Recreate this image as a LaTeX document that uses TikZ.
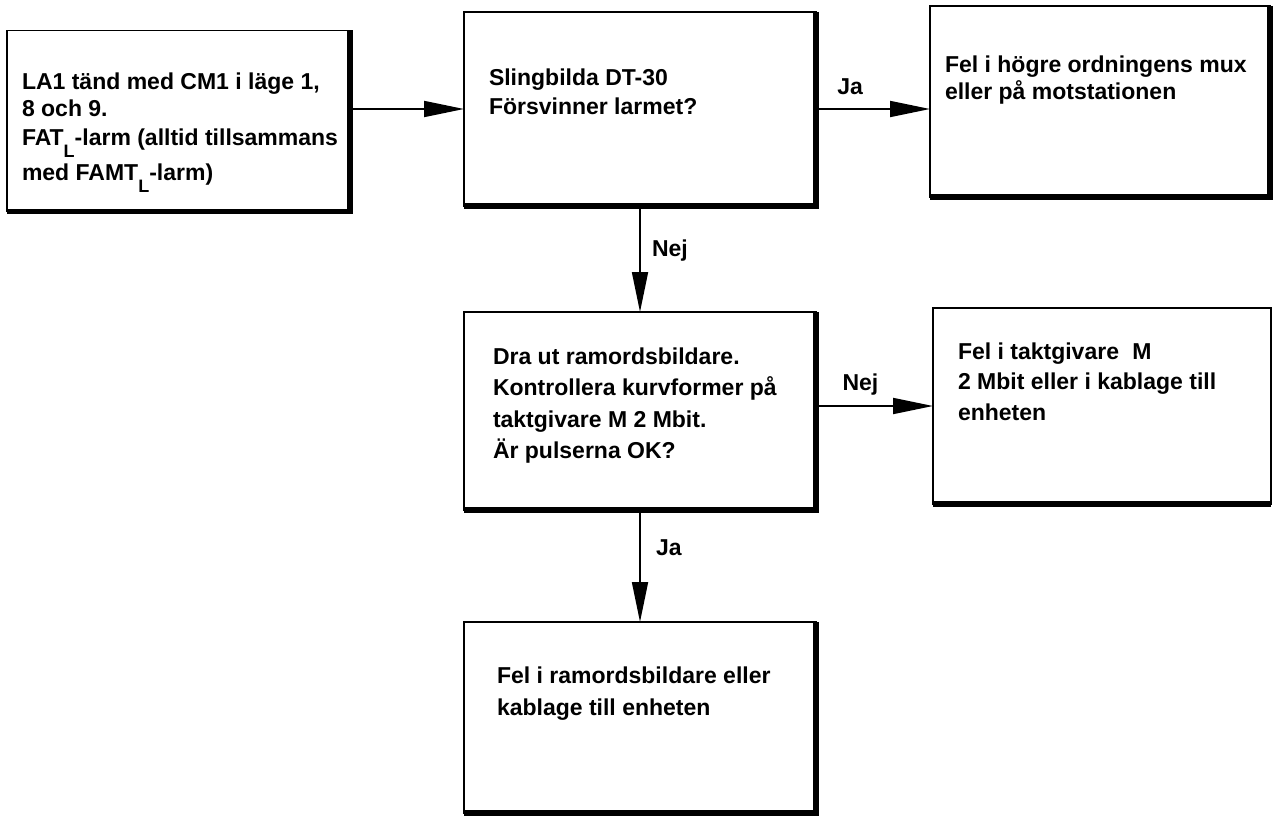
\documentclass[tikz,border=0pt]{standalone}
\usepackage{fontspec}
\setmainfont{Liberation Sans}
\usetikzlibrary{arrows.meta}
% lowered subscript letter, kept out of the line spacing
\newcommand\lowsub[1]{\smash{\raisebox{-12pt}{\fontsize{18}{18}\selectfont #1}}}
\begin{document}
\begin{tikzpicture}[x=1pt,y=-1pt,
  box/.style={draw, line width=1.6pt, inner sep=0pt, outer sep=0pt},
  heavy/.style={line width=5.5pt, line join=miter},
  txt/.style={inner sep=0pt, outer sep=0pt, anchor=base west,
    font=\bfseries\fontsize{23}{#1}\selectfont},
  txt/.default=29,
  lbl/.style={inner sep=0pt, outer sep=0pt, font=\bfseries\fontsize{23}{26}\selectfont},
  arr/.style={line width=1.8pt, -{Triangle[length=40pt,width=16pt]}}
]
\useasboundingbox (0,0) rectangle (1274,816);

% boxes
\node[box, minimum width=343pt, minimum height=181pt] (B1) at (178.5,121) {};
\node[box, minimum width=352pt, minimum height=194pt] (B2) at (640,109) {};
\node[box, minimum width=340pt, minimum height=191pt] (B3) at (1100,101.5) {};
\node[box, minimum width=352pt, minimum height=198pt] (B4) at (640,411) {};
\node[box, minimum width=338pt, minimum height=196pt] (B5) at (1102,406) {};
\node[box, minimum width=352pt, minimum height=191pt] (B6) at (640,717.5) {};

% heavy right and bottom edges
\foreach \b in {B1,B2,B3,B4,B6}
  \draw[heavy] (\b.north east) -- (\b.south east) -- (\b.south west);
\draw[heavy] (B5.south east) -- (B5.south west);

% box texts
\node[txt=27] (T1) at (22,89) {\begin{tabular}[t]{@{}l@{}}
  LA1 tänd med CM1 i läge 1,\\
  8 och 9.\\[2pt]
  FAT\lowsub{L}-larm (alltid tillsammans\\[8pt]
  med FAMT\lowsub{L}-larm)\end{tabular}};
\node[txt=29] (T2) at (489,85) {\begin{tabular}[t]{@{}l@{}}
  Slingbilda DT-30\\
  Försvinner larmet?\end{tabular}};
\node[txt=28] (T3) at (945,72) {\begin{tabular}[t]{@{}l@{}}
  Fel i högre ordningens mux\\
  eller på motstationen\end{tabular}};
\node[txt=31.5] (T4) at (493,364) {\begin{tabular}[t]{@{}l@{}}
  Dra ut ramordsbildare.\\
  Kontrollera kurvformer på\\
  taktgivare M 2 Mbit.\\
  Är pulserna OK?\end{tabular}};
\node[txt=30.5] (T5) at (958,359) {\begin{tabular}[t]{@{}l@{}}
  Fel i taktgivare\hspace{0.3em} M\\
  2 Mbit eller i kablage till\\
  enheten\end{tabular}};
\node[txt=32] (T6) at (497,683) {\begin{tabular}[t]{@{}l@{}}
  Fel i ramordsbildare eller\\
  kablage till enheten\end{tabular}};

% connectors
\draw[arr] (B1.east |- B2.west) -- (B2.west);
\draw[arr] (B2.east) -- node[lbl, pos=0.3, yshift=22pt] (L1) {Ja} (B3.west |- B2.east);
\draw[arr] (B2.south) -- node[lbl, pos=0.42, anchor=west, xshift=12pt] (L2) {Nej} (B4.north);
\draw[arr] (B4.east |- B5.west) -- node[lbl, pos=0.38, yshift=21pt] (L3) {Nej} (B5.west);
\draw[arr] (B4.south) -- node[lbl, pos=0.34, anchor=west, xshift=16pt] (L4) {Ja} (B6.north);
\end{tikzpicture}
\end{document}
